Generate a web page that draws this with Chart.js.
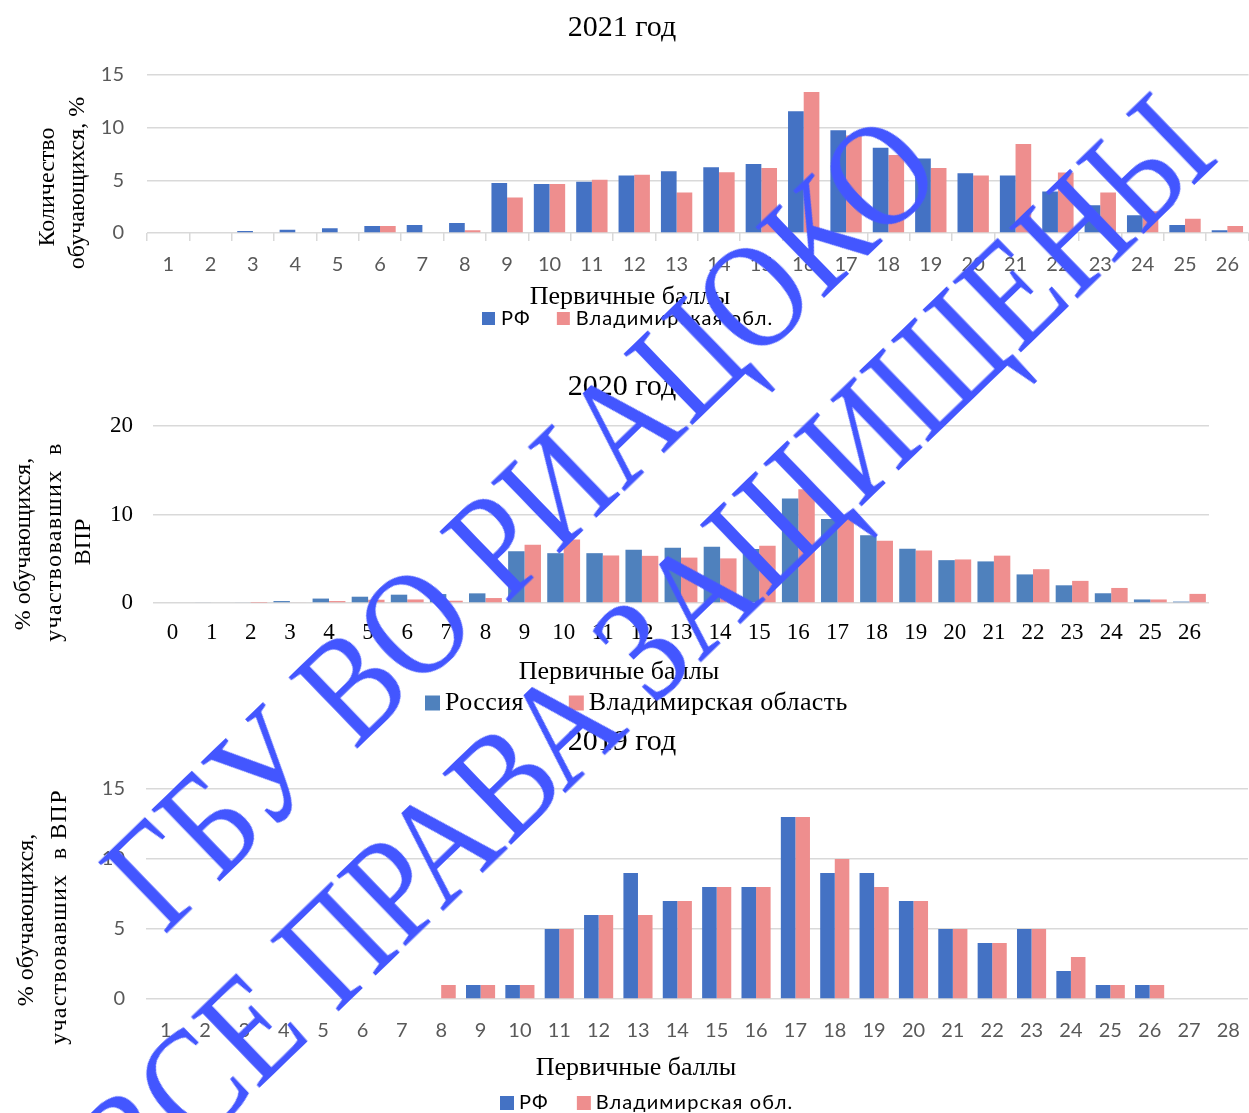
<!DOCTYPE html>
<html><head><meta charset="utf-8">
<script src="https://cdn.jsdelivr.net/npm/chart.js@4.4.0/dist/chart.umd.min.js"></script>
<style>
html,body{margin:0;padding:0;background:#fff;width:1249px;height:1113px;overflow:hidden;position:relative}
.box{position:absolute;left:0}
canvas{display:block}
#wm{position:absolute;left:581px;top:584px;transform:translate(-50%,-50%) rotate(-44deg) scaleX(0.853);font-family:"Liberation Serif";font-size:150px;line-height:176px;color:#4356FF;white-space:nowrap;text-align:center;pointer-events:none;z-index:10}
</style></head><body>
<div class="box" style="top:0"><canvas id="c1" width="1251" height="340"></canvas></div>
<div class="box" style="top:340px"><canvas id="c2" width="1249" height="380"></canvas></div>
<div class="box" style="top:720px"><canvas id="c3" width="1260" height="393"></canvas></div>
<div id="wm">ГБУ ВО РИАЦОКО<br>ВСЕ ПРАВА ЗАЩИЩЕНЫ</div>
<script>
// ---- data ----
const scores2021 = ['1','2','3','4','5','6','7','8','9','10','11','12','13','14','15','16','17','18','19','20','21','22','23','24','25','26'];
const rf2021 = [0,0.06,0.2,0.3,0.45,0.67,0.76,0.96,4.75,4.65,4.87,5.45,5.86,6.24,6.56,11.56,9.75,8.1,7.07,5.67,5.45,3.93,2.63,1.68,0.75,0.26];
const vlad2021 = [0,0,0,0,0,0.67,0,0.25,3.38,4.65,5.06,5.54,3.85,5.76,6.18,13.38,9.26,7.4,6.16,5.45,8.46,5.75,3.85,2.06,1.35,0.66];

const scores2020 = ['0','1','2','3','4','5','6','7','8','9','10','11','12','13','14','15','16','17','18','19','20','21','22','23','24','25','26'];
const rf2020 = [0,0.08,0.08,0.22,0.5,0.71,0.94,1.01,1.09,5.85,5.63,5.63,6.03,6.25,6.36,6.1,11.8,9.48,7.65,6.14,4.84,4.7,3.23,2.0,1.1,0.4,0.16];
const vlad2020 = [0,0,0.03,0.08,0.22,0.37,0.4,0.26,0.56,6.57,7.17,5.37,5.33,5.13,5.04,6.47,12.86,9.88,7.04,5.93,4.92,5.35,3.82,2.5,1.7,0.4,1.03];

const scores2019 = ['1','2','3','4','5','6','7','8','9','10','11','12','13','14','15','16','17','18','19','20','21','22','23','24','25','26','27','28'];
const rf2019 = [0,0,0,0,0,0,0,0,1,1,5,6,9,7,8,8,13,9,9,7,5,4,5,2,1,1,0,0];
const vlad2019 = [0,0,0,0,0,0,0,1,1,1,5,6,6,7,8,8,13,10,8,7,5,4,5,3,1,1,0,0];

const names2021 = ['РФ','Владимирская обл.'];
const names2020 = ['Россия','Владимирская область'];
const names2019 = ['РФ','Владимирская обл.'];

// ---- drawing ----
const GRID = '#d9d9d9';
const SERIF = '"Liberation Serif", "Times New Roman", serif';

function makeTexts(top, texts, legend) {
  return {
    id: 'texts',
    afterDraw(chart) {
      const ctx = chart.ctx;
      texts.forEach(t => {
        ctx.save();
        ctx.font = t.font; ctx.fillStyle = '#000';
        if (t.ls) ctx.letterSpacing = t.ls;
        ctx.textAlign = 'center'; ctx.textBaseline = 'middle';
        ctx.translate(t.x, t.y - top);
        if (t.rot) ctx.rotate(t.rot);
        ctx.fillText(t.text, 0, 0);
        ctx.restore();
      });
      if (legend) {
        ctx.save();
        ctx.font = legend.font; ctx.textBaseline = 'middle'; ctx.textAlign = 'left';
        if (legend.spacing) ctx.letterSpacing = legend.spacing;
        let x = legend.x;
        chart.data.datasets.forEach(ds => {
          ctx.fillStyle = ds.backgroundColor;
          ctx.fillRect(x, legend.y - top - legend.box / 2, legend.box, legend.box);
          x += legend.box + legend.gap;
          ctx.fillStyle = '#000';
          ctx.fillText(ds.label, x, legend.y - top);
          x += ctx.measureText(ds.label).width + legend.itemGap;
        });
        ctx.restore();
      }
    }
  };
}

function build(id, top, c) {
  new Chart(document.getElementById(id), {
    type: 'bar',
    data: {
      labels: c.labels,
      datasets: [
        {label: c.names[0], data: c.a, backgroundColor: c.colors[0], categoryPercentage: c.cat, barPercentage: 1},
        {label: c.names[1], data: c.b, backgroundColor: c.colors[1], categoryPercentage: c.cat, barPercentage: 1}
      ]
    },
    options: {
      responsive: false, animation: false, events: [],
      layout: {padding: {left: c.pl, right: c.pr, top: c.pt, bottom: 0}},
      plugins: {legend: {display: false}, title: {display: false}, tooltip: {enabled: false}},
      scales: {
        x: {
          offset: true,
          grid: {display: c.xticks, drawOnChartArea: false, drawTicks: c.xticks, tickLength: 8, color: GRID, lineWidth: 1.5, offset: true},
          border: {display: false},
          ticks: {font: c.tickFont, color: c.tickColor, padding: c.xpad, maxRotation: 0, minRotation: 0, autoSkip: false},
          afterFit: s => { s.height = c.xh; }
        },
        y: {
          min: 0, max: c.max,
          grid: {color: GRID, lineWidth: 1.5, drawTicks: false},
          border: {display: false},
          ticks: {stepSize: c.step, font: c.tickFont, color: c.tickColor, padding: c.ypad},
          afterFit: s => { s.width = c.yw; }
        }
      }
    },
    plugins: [makeTexts(top, c.texts, c.legend)]
  });
}

const R90 = -Math.PI / 2;

build('c1', 0, {
  labels: scores2021, a: rf2021, b: vlad2021, names: names2021,
  colors: ['#4472C4', '#EE8E8E'], cat: 0.74,
  pl: 4, pr: 1, pt: 75, yw: 143, xh: 107, max: 15, step: 5,
  xticks: true, xpad: 12, ypad: 23,
  tickFont: {family: 'Lato', size: 20}, tickColor: '#595959',
  texts: [
    {text: '2021 год', x: 622, y: 28, font: '30px ' + SERIF},
    {text: 'Первичные баллы', x: 630, y: 297, font: '26px ' + SERIF},
    {text: 'Количество', x: 48, y: 187, rot: R90, font: '24px ' + SERIF},
    {text: 'обучающихся, %', x: 78, y: 183, rot: R90, font: '24px ' + SERIF}
  ],
  legend: {x: 482, y: 318.5, box: 13, gap: 6, itemGap: 26, font: '20px Lato', spacing: '1.1px'}
});

build('c2', 340, {
  labels: scores2020, a: rf2020, b: vlad2020, names: names2020,
  colors: ['#4F81BD', '#EF8F8F'], cat: 0.84,
  pl: 0, pr: 40, pt: 86, yw: 153, xh: 117, max: 20, step: 10,
  xticks: false, xpad: 16, ypad: 20,
  tickFont: {family: 'Liberation Serif', size: 23}, tickColor: '#000',
  texts: [
    {text: '2020 год', x: 622, y: 387, font: '30px ' + SERIF},
    {text: 'Первичные баллы', x: 619, y: 672, font: '26px ' + SERIF},
    {text: '% обучающихся,', x: 24, y: 544, rot: R90, font: '24px ' + SERIF},
    {text: 'участвовавших  в', x: 55, y: 542, rot: R90, font: '24px ' + SERIF, ls: '1.3px'},
    {text: 'ВПР', x: 84, y: 542, rot: R90, font: '24px ' + SERIF}
  ],
  legend: {x: 425, y: 703, box: 15, gap: 5, itemGap: 45, font: '26px ' + SERIF, spacing: '0.4px'}
});

build('c3', 720, {
  labels: scores2019, a: rf2019, b: vlad2019, names: names2019,
  colors: ['#4472C4', '#EE8E8E'], cat: 0.74,
  pl: 0, pr: 3, pt: 69, yw: 146, xh: 114, max: 15, step: 5,
  xticks: false, xpad: 20, ypad: 21,
  tickFont: {family: 'Lato', size: 20}, tickColor: '#595959',
  texts: [
    {text: '2019 год', x: 622, y: 742, font: '30px ' + SERIF},
    {text: 'Первичные баллы', x: 636, y: 1068, font: '26px ' + SERIF},
    {text: '% обучающихся,', x: 27, y: 920, rot: R90, font: '24px ' + SERIF},
    {text: 'участвовавших  в ВПР', x: 60, y: 917, rot: R90, font: '24px ' + SERIF, ls: '1.2px'}
  ],
  legend: {x: 500, y: 1103, box: 14, gap: 5, itemGap: 28, font: '20px Lato', spacing: '1.1px'}
});
</script>
</body></html>
